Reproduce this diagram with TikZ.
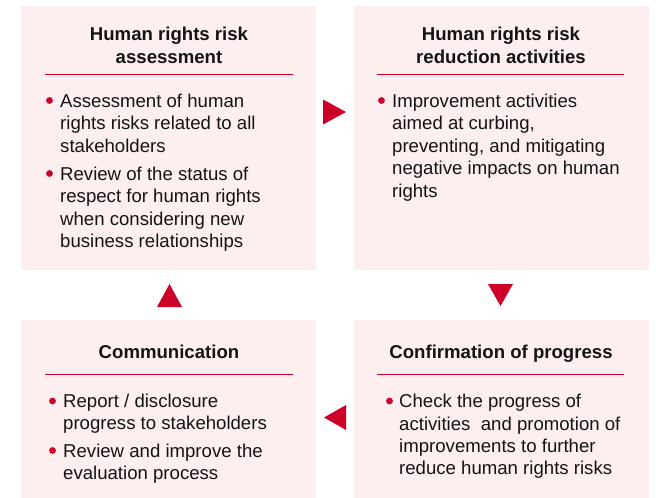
\documentclass[tikz,border=0pt]{standalone}
\usepackage{fontspec}
\setmainfont{Liberation Sans}
\definecolor{boxpink}{RGB}{253,239,240}
\definecolor{flowred}{RGB}{204,0,40}
\definecolor{txt}{RGB}{20,20,20}
\begin{document}
\begin{tikzpicture}[x=1pt,y=-1pt,
  panel/.style={fill=boxpink,draw=none},
  ttl/.style={font=\fontsize{18.6}{22}\selectfont\bfseries,text=txt,inner sep=0,anchor=base},
  ln/.style={font=\fontsize{18.6}{22}\selectfont,text=txt,inner sep=0,anchor=base west},
  rulered/.style={draw=flowred,line width=1pt},
  dot/.style={fill=flowred},
  tri/.style={fill=flowred,draw=none}]
\useasboundingbox (0,0) rectangle (656,498);
% panels
\path[panel] (21,6) rectangle (316,270);
\path[panel] (354,6) rectangle (649,270);
\path[panel] (21,320) rectangle (316,498);
\path[panel] (354,320) rectangle (649,498);
% rules
\draw[rulered] (45,74) -- (293,74);
\draw[rulered] (377,74) -- (624,74);
\draw[rulered] (45,374) -- (293,374);
\draw[rulered] (377,374) -- (624,374);
% titles
\node[ttl] (t1a) at (169,40) {Human rights risk};
\node[ttl] (t1b) at (169,63) {assessment};
\node[ttl] (t2a) at (501,40) {Human rights risk};
\node[ttl] (t2b) at (501,63) {reduction activities};
\node[ttl] (t3) at (169,358) {Communication};
\node[ttl] (t4) at (501,358) {Confirmation of progress};
% box 1
\fill[dot] (49.5,100.5) circle (3.4);
\node[ln] (a1) at (60,107) {Assessment of human};
\node[ln] (a2) at (60,129.5) {rights risks related to all};
\node[ln] (a3) at (60,152) {stakeholders};
\fill[dot] (49.5,173.5) circle (3.4);
\node[ln] (a4) at (60,180) {Review of the status of};
\node[ln] (a5) at (60,202.5) {respect for human rights};
\node[ln] (a6) at (60,225) {when considering new};
\node[ln] (a7) at (60,247.5) {business relationships};
% box 2
\fill[dot] (381.5,100.5) circle (3.4);
\node[ln] (b1) at (392,107) {Improvement activities};
\node[ln] (b2) at (392,129.5) {aimed at curbing,};
\node[ln] (b3) at (392,152) {preventing, and mitigating};
\node[ln] (b4) at (392,174.5) {negative impacts on human};
\node[ln] (b5) at (392,197) {rights};
% box 3
\fill[dot] (52.5,401) circle (3.4);
\node[ln] (c1) at (63,407.5) {Report / disclosure};
\node[ln] (c2) at (63,429.5) {progress to stakeholders};
\fill[dot] (52.5,450.5) circle (3.4);
\node[ln] (c3) at (63,457) {Review and improve the};
\node[ln] (c4) at (63,479) {evaluation process};
% box 4
\fill[dot] (389.5,401) circle (3.4);
\node[ln] (d1) at (399,407.5) {Check the progress of};
\node[ln] (d2) at (399,430) {activities\ \ and promotion of};
\node[ln] (d3) at (399,452.3) {improvements to further};
\node[ln] (d4) at (399,474.6) {reduce human rights risks};
% flow triangles
\path[tri] (323,99.5) -- (346,112) -- (323,124.5) -- cycle;
\path[tri] (488,284) -- (513,284) -- (500.5,306) -- cycle;
\path[tri] (346,405) -- (346,430) -- (324,417.5) -- cycle;
\path[tri] (157,307) -- (182,307) -- (169.5,284) -- cycle;
\end{tikzpicture}
\end{document}
